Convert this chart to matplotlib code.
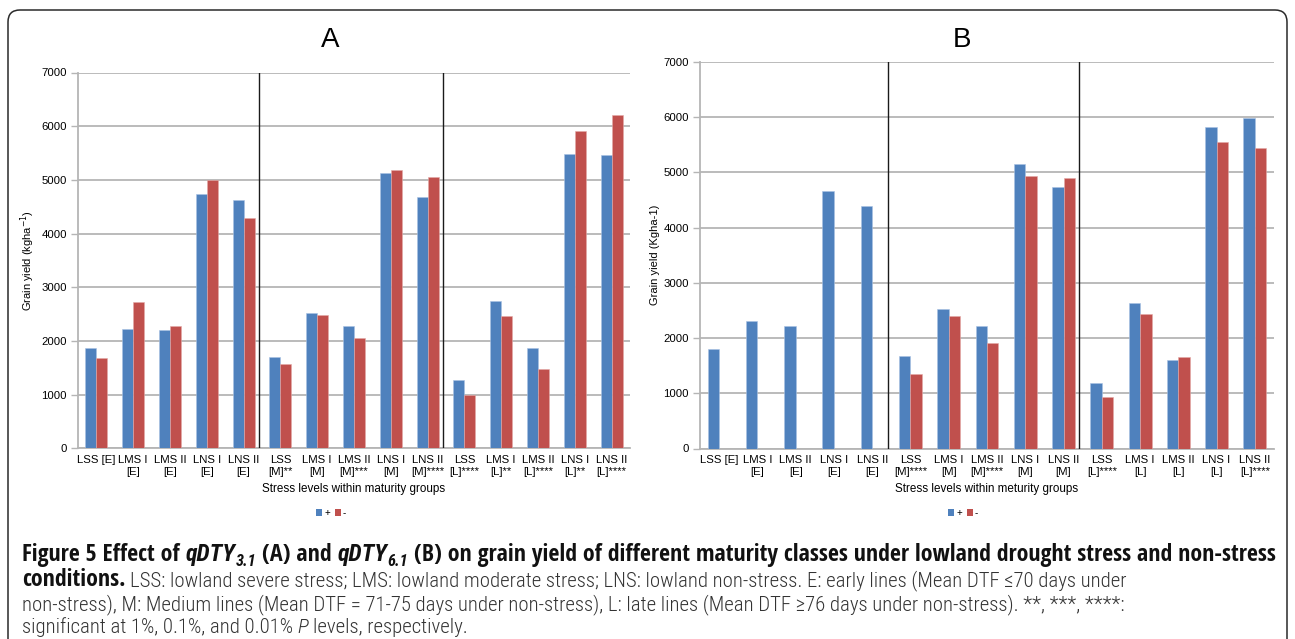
import matplotlib
matplotlib.use("Agg")
import matplotlib.pyplot as plt
from matplotlib import font_manager
from matplotlib.font_manager import FontProperties
from matplotlib.patches import FancyBboxPatch, Patch
from matplotlib.transforms import IdentityTransform
import numpy as np

# ---------------- data ----------------
labels_a = ["LSS [E]", "LMS I\n[E]", "LMS II\n[E]", "LNS I\n[E]", "LNS II\n[E]",
            "LSS\n[M]**", "LMS I\n[M]", "LMS II\n[M]***", "LNS I\n[M]", "LNS II\n[M]****",
            "LSS\n[L]****", "LMS I\n[L]**", "LMS II\n[L]****", "LNS I\n[L]**", "LNS II\n[L]****"]
labels_b = ["LSS [E]", "LMS I\n[E]", "LMS II\n[E]", "LNS I\n[E]", "LNS II\n[E]",
            "LSS\n[M]****", "LMS I\n[M]", "LMS II\n[M]****", "LNS I\n[M]", "LNS II\n[M]",
            "LSS\n[L]****", "LMS I\n[L]", "LMS II\n[L]", "LNS I\n[L]", "LNS II\n[L]****"]

plus_a = [1876, 2217, 2205, 4745, 4627, 1702, 2528, 2273, 5124, 4683,
          1280, 2745, 1870, 5491, 5472]
minus_a = [1677, 2720, 2273, 4994, 4292, 1565, 2491, 2062, 5180, 5056,
           994, 2466, 1484, 5913, 6211]
plus_b = [1802, 2317, 2222, 4667, 4400, 1683, 2521, 2210, 5158, 4745,
          1192, 2635, 1611, 5818, 5994]
minus_b = [np.nan, np.nan, np.nan, np.nan, np.nan, 1347, 2407, 1916, 4927, 4897,
           940, 2431, 1653, 5558, 5436]

series_labels = ["+", "-"]
ylabel_a = "Grain yield (kgha$^{-1}$)"
ylabel_b = "Grain yield (Kgha-1)"
xlabel_a = "Stress levels within maturity groups"
xlabel_b = "Stress levels within meturity groups"

caption_lines = [
    [("Figure 5 Effect of ", "b"), ("qDTY", "bi"), ("3.1", "bi_sub"),
     (" (A) and ", "b"), ("qDTY", "bi"), ("6.1", "bi_sub"),
     (" (B) on grain yield of different maturity classes under lowland drought stress and non-stress", "b")],
    [("conditions.", "b"),
     (" LSS: lowland severe stress; LMS: lowland moderate stress; LNS: lowland non-stress. E: early lines (Mean DTF \u226470 days under", "r")],
    [("non-stress), M: Medium lines (Mean DTF = 71-75 days under non-stress), L: late lines (Mean DTF \u226576 days under non-stress). **, ***, ****:", "r")],
    [("significant at 1%, 0.1%, and 0.01% ", "r"), ("P", "i"), (" levels, respectively.", "r")],
]

# ---------------- figure ----------------
W, H = 1295, 639
DPI = 100
plt.rcParams["font.family"] = ["Liberation Sans", "DejaVu Sans"]
fig = plt.figure(figsize=(W / DPI, H / DPI), dpi=DPI)
fig.patch.set_facecolor("white")

BLUE = "#4F81BD"
RED = "#C0504D"
GRID = "#b5b5b5"
TICK_FS = 8.2


def px_axes(left, top, right, bottom):
    return fig.add_axes([left / W, 1 - bottom / H, (right - left) / W, (bottom - top) / H])


def draw_panel(ax, labels, plus, minus, ylabel, xlabel, ylab_x):
    x = np.arange(len(labels))
    w = 0.3
    ax.bar(x - w / 2, plus, w, color=BLUE, edgecolor="#a9c2e3", linewidth=0.4, zorder=3)
    ax.bar(x + w / 2, minus, w, color=RED, edgecolor="#e3a9a7", linewidth=0.4, zorder=3)
    ax.set_xlim(-0.5, len(labels) - 0.5)
    ax.set_ylim(0, 7000)
    ax.set_yticks(np.arange(0, 7001, 1000))
    ax.yaxis.grid(True, color=GRID, linewidth=1.3, zorder=0)
    ax.set_axisbelow(True)
    for s in ("top", "right"):
        ax.spines[s].set_visible(False)
    for s in ("left", "bottom"):
        ax.spines[s].set_color(GRID)
        ax.spines[s].set_linewidth(1.3)
    ax.tick_params(axis="y", length=5, width=1, color=GRID, labelsize=TICK_FS, pad=3)
    ax.tick_params(axis="x", length=0, labelsize=TICK_FS, pad=5)
    ax.set_xticks(x)
    ax.set_xticklabels(labels, linespacing=1.25)
    # maturity-group separators
    for b in (4.41, 9.41):
        ax.axvline(b, color="#1a1a1a", linewidth=1.0, zorder=4)
    ax.set_ylabel(ylabel, fontsize=8)
    ax.yaxis.set_label_coords(ylab_x, 0.5)
    ax.set_xlabel(xlabel, fontsize=8.4, labelpad=4)


ax_a = px_axes(78, 72.5, 630, 448.3)
draw_panel(ax_a, labels_a, plus_a, minus_a, ylabel_a, xlabel_a, (37.5 - 78) / 552)
ax_b = px_axes(700, 62, 1274, 448.5)
draw_panel(ax_b, labels_b, plus_b, minus_b, ylabel_b, xlabel_b, (660 - 700) / 574)

# panel letters
fig.text(330 / W, 1 - 40 / H, "A", fontsize=20, ha="center", va="center")
fig.text(962 / W, 1 - 40 / H, "B", fontsize=20, ha="center", va="center")

# legends
handles = [Patch(facecolor=BLUE), Patch(facecolor=RED)]
for cx in (331, 963):
    fig.legend(handles, series_labels, loc="center", bbox_to_anchor=(cx / W, 1 - 513 / H),
               ncol=2, frameon=False, fontsize=7, handlelength=0.6, handleheight=0.6,
               handletextpad=0.2, columnspacing=0.5, borderpad=0)

# rounded outer frame (open past the bottom edge)
frame = FancyBboxPatch((8, -40), 1287 - 8, (H - 10) + 40,
                       boxstyle="round,pad=0,rounding_size=12",
                       transform=IdentityTransform(), facecolor="none",
                       edgecolor="#2a2a2a", linewidth=1.1)
fig.add_artist(frame)


# ---------------- caption ----------------
FAMILY_ORDER = ["Open Sans", "Roboto", "Noto Sans", "Lato", "Inter",
                "Liberation Sans", "DejaVu Sans"]
COND_STRETCH = {"condensed", "semi-condensed", "extra-condensed", "ultra-condensed"}
renderer = fig.canvas.get_renderer()


def _weight(f):
    w = f.weight
    if isinstance(w, str):
        return font_manager.weight_dict.get(w, 400)
    return int(w)


def _is_condensed(f):
    st = f.stretch
    if isinstance(st, (int, float)):
        narrow = st < 500
    else:
        narrow = str(st) in COND_STRETCH
    return narrow or "Condensed" in f.name or "Narrow" in f.name


def _family_rank(name):
    for i, fam in enumerate(FAMILY_ORDER):
        if name == fam or name.startswith(fam + " "):
            return i
    return None


def _is_italic(f):
    return f.style in ("italic", "oblique")


def text_width(s, fp):
    t = fig.text(0, 0, s, fontproperties=fp)
    wdt = t.get_window_extent(renderer).width
    t.remove()
    return wdt


def pick_bold(italic):
    best, best_cost = None, None
    for f in font_manager.fontManager.ttflist:
        rank = _family_rank(f.name)
        if rank is None or not _is_condensed(f):
            continue
        cost = (500 if _is_italic(f) != italic else 0) + 1.5 * abs(_weight(f) - 700) + 40 * rank
        if best_cost is None or cost < best_cost:
            best, best_cost = f, cost
    if best is None:
        return FontProperties(family="Liberation Sans", weight="bold",
                              style="italic" if italic else "normal")
    return FontProperties(fname=best.fname)


def pick_regular(sample, target, size):
    """Light/regular upright face whose natural width at `size` best fills `target`."""
    best, best_cost, seen = None, None, set()
    for f in font_manager.fontManager.ttflist:
        if _family_rank(f.name) is None or _is_italic(f) or f.fname in seen:
            continue
        wt = _weight(f)
        if wt > 400 or wt < 250:
            continue
        seen.add(f.fname)
        wdt = text_width(sample, FontProperties(fname=f.fname, size=size))
        cost = abs(wdt - target) + 0.1 * abs(wt - 300)
        if best_cost is None or cost < best_cost:
            best, best_cost = f, cost
    if best is None:
        return FontProperties(family="Liberation Sans"), FontProperties(family="Liberation Sans", style="italic")
    # matching italic within the same family
    it, it_cost = None, None
    for f in font_manager.fontManager.ttflist:
        if f.name != best.name or not _is_italic(f):
            continue
        c = abs(_weight(f) - _weight(best)) + (0 if _is_condensed(f) == _is_condensed(best) else 300)
        if it_cost is None or c < it_cost:
            it, it_cost = f, c
    it_fp = FontProperties(fname=it.fname) if it is not None else \
        FontProperties(family="Liberation Sans", style="italic")
    return FontProperties(fname=best.fname), it_fp


FONTS = {"b": pick_bold(False), "bi": pick_bold(True)}
STYLES = {
    "r": dict(font="r", scale=1.0, dy=0.0, color="#333333"),
    "i": dict(font="i", scale=1.0, dy=0.0, color="#333333"),
    "b": dict(font="b", scale=1.0, dy=0.0, color="#111111"),
    "bi": dict(font="bi", scale=1.0, dy=0.0, color="#111111"),
    "bi_sub": dict(font="bi", scale=0.68, dy=-0.22, color="#111111"),
}


def props_at(key, size):
    fp = FONTS[key].copy()
    fp.set_size(size)
    return fp


def draw_runs(runs, x0, y_base, sizes, draw=True):
    """Lay out styled runs left to right; `sizes` maps font key -> point size."""
    x = x0
    for txt, key in runs:
        st = STYLES[key]
        base = sizes[st["font"]]
        fp = props_at(st["font"], base * st["scale"])
        lead = len(txt) - len(txt.lstrip(" "))
        trail = len(txt) - len(txt.rstrip(" "))
        core = txt.strip(" ")
        sp = (text_width("x x", fp) - text_width("xx", fp)) if (lead or trail) else 0
        x += lead * sp
        if core:
            if draw:
                yb = y_base - st["dy"] * base * DPI / 72
                t = fig.text(x / W, 1 - yb / H, core, fontproperties=fp,
                             color=st["color"], ha="left", va="baseline")
                x += t.get_window_extent(renderer).width
            else:
                x += text_width(core, fp)
        x += trail * sp
    return x


def fit_size(runs, target, size=12.0):
    for _ in range(3):
        wdt = draw_runs(runs, 0, 0, {k: size for k in ("b", "bi", "r", "i")}, draw=False)
        size *= target / wdt
    return size


x_left = 22
bold_size = fit_size(caption_lines[0], 1275 - x_left)
reg_target = 1126 - x_left
reg_guess = bold_size * 0.86
FONTS["r"], FONTS["i"] = pick_regular(caption_lines[2][0][0], reg_target, reg_guess)
reg_size = fit_size(caption_lines[2], reg_target, reg_guess)
sizes = {"b": bold_size, "bi": bold_size, "r": reg_size, "i": reg_size}

baselines = [561, 586, 610, 633]
for i, runs in enumerate(caption_lines):
    draw_runs(runs, x_left, baselines[i], sizes)

fig.savefig("out.png", dpi=DPI, facecolor="white")
